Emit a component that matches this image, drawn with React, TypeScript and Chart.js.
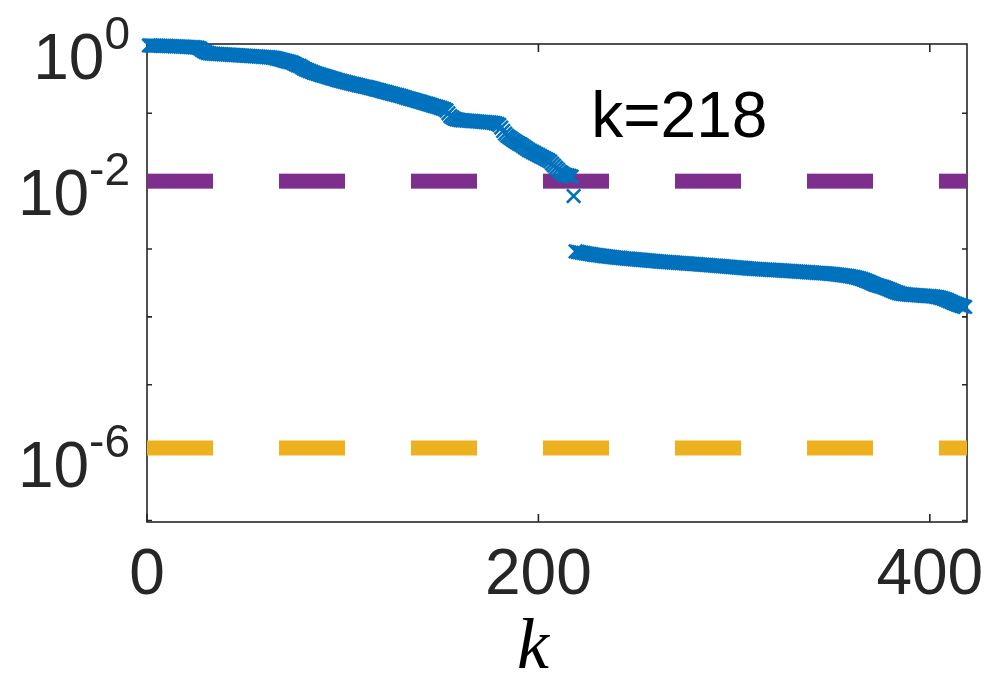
import React, { useEffect, useRef } from "react";
import { Chart, registerables } from "chart.js";

Chart.register(...registerables);

// Residual values for k = 1 .. 218 (above the split)
const upperResidual = [
  1.0, 0.998, 0.996, 0.994, 0.992, 0.99, 0.988, 0.986, 0.984, 0.982,
  0.98, 0.978, 0.975, 0.972, 0.97, 0.967, 0.964, 0.961, 0.958, 0.955,
  0.952, 0.948, 0.944, 0.94, 0.934, 0.925, 0.905, 0.861, 0.825, 0.795,
  0.778, 0.765, 0.759, 0.755, 0.752, 0.749, 0.746, 0.743, 0.74, 0.737,
  0.734, 0.731, 0.728, 0.725, 0.722, 0.719, 0.716, 0.713, 0.71, 0.707,
  0.704, 0.701, 0.698, 0.695, 0.692, 0.689, 0.686, 0.683, 0.68, 0.677,
  0.674, 0.67, 0.665, 0.66, 0.654, 0.645, 0.636, 0.625, 0.612, 0.6,
  0.59, 0.58, 0.57, 0.562, 0.545, 0.525, 0.51, 0.5, 0.48, 0.46,
  0.445, 0.432, 0.42, 0.41, 0.398, 0.39, 0.382, 0.374, 0.366, 0.359,
  0.352, 0.345, 0.338, 0.331, 0.324, 0.318, 0.312, 0.306, 0.3, 0.295,
  0.29, 0.286, 0.281, 0.277, 0.272, 0.268, 0.264, 0.259, 0.255, 0.251,
  0.248, 0.245, 0.241, 0.237, 0.233, 0.229, 0.224, 0.221, 0.217, 0.213,
  0.209, 0.206, 0.202, 0.198, 0.195, 0.191, 0.188, 0.185, 0.182, 0.179,
  0.175, 0.172, 0.168, 0.165, 0.162, 0.159, 0.156, 0.153, 0.15, 0.147,
  0.144, 0.141, 0.139, 0.136, 0.133, 0.13, 0.128, 0.125, 0.123, 0.12,
  0.117, 0.115, 0.11, 0.1, 0.0912, 0.0871, 0.0832, 0.0813, 0.0804, 0.0794,
  0.079, 0.0786, 0.0782, 0.0778, 0.0774, 0.077, 0.0766, 0.0762, 0.0759, 0.0755,
  0.075, 0.0745, 0.0741, 0.0737, 0.0733, 0.0729, 0.0722, 0.0712, 0.07, 0.0676,
  0.0617, 0.055, 0.0501, 0.0468, 0.0447, 0.0427, 0.0407, 0.0389, 0.0372, 0.0359,
  0.0347, 0.0331, 0.0316, 0.0302, 0.0288, 0.0279, 0.0269, 0.026, 0.0251, 0.0243,
  0.0234, 0.0226, 0.0219, 0.0211, 0.0204, 0.0195, 0.0182, 0.017, 0.0158, 0.0148,
  0.0138, 0.0132, 0.0126, 0.0123, 0.0122, 0.012, 0.0117, 0.00603,
];

// Residual values for k = 219 .. 418 (below the split)
const lowerResidual = [
  9.23e-4, 9.1e-4, 8.98e-4, 8.87e-4, 8.76e-4, 8.66e-4, 8.56e-4, 8.47e-4, 8.38e-4, 8.29e-4,
  8.2e-4, 8.12e-4, 8.04e-4, 7.97e-4, 7.9e-4, 7.83e-4, 7.77e-4, 7.71e-4, 7.65e-4, 7.59e-4,
  7.54e-4, 7.49e-4, 7.44e-4, 7.39e-4, 7.34e-4, 7.29e-4, 7.24e-4, 7.19e-4, 7.15e-4, 7.11e-4,
  7.07e-4, 7.03e-4, 6.99e-4, 6.95e-4, 6.91e-4, 6.87e-4, 6.83e-4, 6.79e-4, 6.75e-4, 6.71e-4,
  6.67e-4, 6.63e-4, 6.59e-4, 6.55e-4, 6.51e-4, 6.48e-4, 6.45e-4, 6.42e-4, 6.39e-4, 6.36e-4,
  6.33e-4, 6.3e-4, 6.27e-4, 6.24e-4, 6.21e-4, 6.18e-4, 6.15e-4, 6.12e-4, 6.09e-4, 6.06e-4,
  6.03e-4, 6.0e-4, 5.97e-4, 5.94e-4, 5.91e-4, 5.88e-4, 5.85e-4, 5.82e-4, 5.79e-4, 5.76e-4,
  5.73e-4, 5.7e-4, 5.67e-4, 5.64e-4, 5.61e-4, 5.58e-4, 5.55e-4, 5.52e-4, 5.49e-4, 5.46e-4,
  5.43e-4, 5.4e-4, 5.37e-4, 5.34e-4, 5.31e-4, 5.28e-4, 5.25e-4, 5.22e-4, 5.19e-4, 5.16e-4,
  5.13e-4, 5.11e-4, 5.09e-4, 5.07e-4, 5.05e-4, 5.03e-4, 5.01e-4, 4.99e-4, 4.97e-4, 4.95e-4,
  4.93e-4, 4.91e-4, 4.89e-4, 4.87e-4, 4.85e-4, 4.83e-4, 4.81e-4, 4.79e-4, 4.77e-4, 4.75e-4,
  4.73e-4, 4.71e-4, 4.69e-4, 4.67e-4, 4.65e-4, 4.63e-4, 4.61e-4, 4.59e-4, 4.57e-4, 4.55e-4,
  4.53e-4, 4.51e-4, 4.49e-4, 4.47e-4, 4.45e-4, 4.43e-4, 4.41e-4, 4.39e-4, 4.37e-4, 4.35e-4,
  4.32e-4, 4.29e-4, 4.26e-4, 4.23e-4, 4.2e-4, 4.17e-4, 4.14e-4, 4.1e-4, 4.06e-4, 4.02e-4,
  3.98e-4, 3.93e-4, 3.88e-4, 3.83e-4, 3.77e-4, 3.7e-4, 3.62e-4, 3.54e-4, 3.45e-4, 3.36e-4,
  3.27e-4, 3.18e-4, 3.09e-4, 3.0e-4, 2.93e-4, 2.87e-4, 2.82e-4, 2.76e-4, 2.7e-4, 2.63e-4,
  2.56e-4, 2.49e-4, 2.42e-4, 2.36e-4, 2.3e-4, 2.25e-4, 2.21e-4, 2.18e-4, 2.16e-4, 2.14e-4,
  2.13e-4, 2.12e-4, 2.11e-4, 2.1e-4, 2.09e-4, 2.08e-4, 2.07e-4, 2.06e-4, 2.05e-4, 2.04e-4,
  2.03e-4, 2.02e-4, 2.01e-4, 2.0e-4, 1.98e-4, 1.96e-4, 1.93e-4, 1.89e-4, 1.85e-4, 1.81e-4,
  1.76e-4, 1.71e-4, 1.66e-4, 1.61e-4, 1.57e-4, 1.53e-4, 1.49e-4, 1.46e-4, 1.43e-4, 1.4e-4,
];

const lowerStartK = 219;
const purpleLevel = 1e-2;
const yellowLevel = 1.17e-6;
const xRange = [0, 419];
const yRange = [9.5e-8, 1.05];
const xTickValues = [0, 200, 400];
const yTickMarks = [1e-1, 1e-2, 1e-3, 1e-4, 1e-5, 1e-6, 1e-7];
const yLabelValues = [1, 1e-2, 1e-6];
const yLabelExponents = ["0", "-2", "-6"];
const splitText = "k=218";
const splitTextPos = { x: 227, y: 0.1 };
const xTitle = "k";

const SANS = '"Liberation Sans", Arial, Helvetica, sans-serif';
const AXIS_COLOR = "#262626";

const decorPlugin = {
  id: "decor",
  beforeDatasetsDraw(chart: any) {
    const { ctx, chartArea: a, scales } = chart;
    const x = scales.x;
    const y = scales.y;
    ctx.save();
    ctx.strokeStyle = AXIS_COLOR;
    ctx.lineWidth = 1.6;
    ctx.strokeRect(a.left, a.top, a.right - a.left, a.bottom - a.top);
    ctx.beginPath();
    xTickValues.forEach((v) => {
      const px = x.getPixelForValue(v);
      ctx.moveTo(px, a.bottom);
      ctx.lineTo(px, a.bottom - 8);
      ctx.moveTo(px, a.top);
      ctx.lineTo(px, a.top + 8);
    });
    yTickMarks.forEach((v) => {
      const py = y.getPixelForValue(v);
      ctx.moveTo(a.left, py);
      ctx.lineTo(a.left + 5, py);
      ctx.moveTo(a.right, py);
      ctx.lineTo(a.right - 5, py);
    });
    ctx.stroke();
    ctx.restore();
  },
  afterDraw(chart: any) {
    const { ctx, chartArea: a, scales } = chart;
    const x = scales.x;
    const y = scales.y;
    ctx.save();
    ctx.fillStyle = AXIS_COLOR;
    ctx.textBaseline = "alphabetic";
    const rightEdge = a.left - 17;
    yLabelValues.forEach((v, i) => {
      const py = y.getPixelForValue(v);
      ctx.font = `46px ${SANS}`;
      ctx.textAlign = "right";
      const exp = yLabelExponents[i];
      const ew = ctx.measureText(exp).width;
      ctx.fillText(exp, rightEdge, py + 4);
      ctx.font = `64px ${SANS}`;
      ctx.fillText("10", rightEdge - ew, py + 34);
    });
    // annotation
    ctx.fillStyle = "#000000";
    ctx.font = `64px ${SANS}`;
    ctx.textAlign = "left";
    ctx.fillText(splitText, x.getPixelForValue(splitTextPos.x), y.getPixelForValue(splitTextPos.y) + 24);
    // x title
    ctx.fillStyle = "#000000";
    ctx.font = `italic 72px "Liberation Serif", "Times New Roman", serif`;
    ctx.textAlign = "center";
    ctx.fillText(xTitle, 533, 668);
    ctx.restore();
  },
};

export default function App() {
  const ref = useRef<HTMLCanvasElement | null>(null);

  useEffect(() => {
    const canvas = ref.current;
    if (!canvas) return;
    const points = [
      ...upperResidual.map((v, i) => ({ x: i + 1, y: v })),
      ...lowerResidual.map((v, i) => ({ x: i + lowerStartK, y: v })),
    ];
    const chart = new Chart(canvas, {
      type: "line",
      data: {
        datasets: [
          {
            data: points,
            showLine: false,
            pointStyle: "crossRot",
            pointRadius: 9.5,
            pointBorderWidth: 2.6,
            pointBorderColor: "#0072BD",
            pointBackgroundColor: "#0072BD",
            borderColor: "#0072BD",
            clip: false as any,
          },
          {
            data: [
              { x: xRange[0], y: purpleLevel },
              { x: xRange[1], y: purpleLevel },
            ],
            borderColor: "#7E2F8E",
            borderWidth: 15,
            borderDash: [66, 66],
            borderCapStyle: "butt",
            pointRadius: 0,
            clip: 0 as any,
          },
          {
            data: [
              { x: xRange[0], y: yellowLevel },
              { x: xRange[1], y: yellowLevel },
            ],
            borderColor: "#EDB120",
            borderWidth: 15,
            borderDash: [66, 66],
            borderCapStyle: "butt",
            pointRadius: 0,
            clip: 0 as any,
          },
        ],
      },
      options: {
        animation: false,
        responsive: false,
        devicePixelRatio: 1,
        layout: { padding: { top: 44, right: 19, left: 0, bottom: 0 } },
        plugins: {
          legend: { display: false },
          tooltip: { enabled: false },
          title: { display: false },
        },
        scales: {
          x: {
            type: "linear",
            min: xRange[0],
            max: xRange[1],
            grid: { display: false, drawTicks: false },
            border: { display: false },
            afterBuildTicks: (scale: any) => {
              scale.ticks = xTickValues.map((v) => ({ value: v }));
            },
            afterFit: (scale: any) => {
              scale.height = 156;
              scale.paddingLeft = 0;
              scale.paddingRight = 0;
            },
            ticks: {
              padding: 16,
              maxRotation: 0,
              autoSkip: false,
              color: AXIS_COLOR,
              font: { family: SANS, size: 64 },
            },
          },
          y: {
            type: "logarithmic",
            min: yRange[0],
            max: yRange[1],
            grid: { display: false, drawTicks: false },
            border: { display: false },
            ticks: { display: false },
            afterFit: (scale: any) => {
              scale.width = 147;
              scale.paddingTop = 0;
              scale.paddingBottom = 0;
            },
          },
        },
      },
      plugins: [decorPlugin],
    });
    return () => chart.destroy();
  }, []);

  return (
    <div style={{ position: "absolute", left: 0, top: 0, width: 986, height: 678, background: "#fff" }}>
      <canvas ref={ref} width={986} height={678} style={{ width: 986, height: 678, display: "block" }} />
    </div>
  );
}
